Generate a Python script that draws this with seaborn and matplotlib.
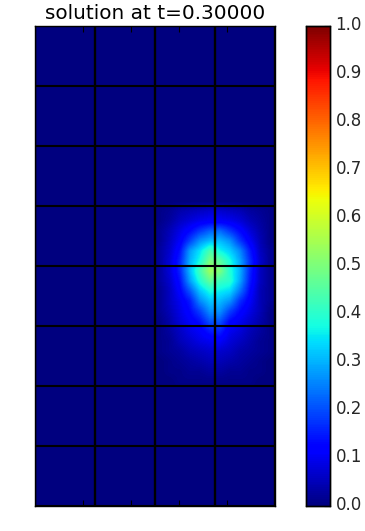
import numpy as np
import pandas as pd
import matplotlib
matplotlib.use('Agg')
import matplotlib.pyplot as plt
from matplotlib.transforms import ScaledTranslation
import seaborn as sns

title = "solution at t=0.30000"
cbar_ticks = [0.0, 0.1, 0.2, 0.3, 0.4, 0.5, 0.6, 0.7, 0.8, 0.9, 1.0]
x_ticks = [4.8, 9.6, 14.4, 19.2]

# solution, 24 x 48 sample cells, zero outside the blob
n_cols = 24
n_rows = 48
blob_first_row = 18
blob_first_col = 12
blob = [
    [.01, .02, .04, .05, .06, .07, .07, .06, .05, .03, .02, .01],
    [.01, .03, .06, .08, .10, .11, .11, .10, .08, .05, .03, .01],
    [.02, .05, .09, .13, .18, .22, .23, .18, .13, .08, .04, .01],
    [.02, .06, .11, .19, .27, .31, .31, .27, .18, .11, .05, .01],
    [.03, .07, .14, .28, .35, .44, .37, .33, .26, .15, .06, .02],
    [.03, .08, .16, .30, .38, .50, .46, .38, .29, .17, .07, .02],
    [.03, .08, .16, .31, .43, .54, .50, .39, .30, .16, .06, .02],
    [.03, .07, .14, .28, .39, .47, .42, .40, .29, .15, .06, .02],
    [.02, .06, .12, .21, .32, .38, .36, .34, .24, .13, .05, .02],
    [.02, .06, .10, .15, .26, .32, .31, .27, .17, .11, .05, .02],
    [.02, .05, .09, .13, .19, .27, .27, .19, .13, .09, .05, .01],
    [.01, .04, .08, .11, .14, .21, .21, .13, .10, .07, .04, .01],
    [.01, .03, .06, .09, .11, .15, .16, .10, .08, .05, .03, .01],
    [.01, .02, .05, .07, .09, .10, .11, .08, .06, .04, .02, .01],
    [.01, .02, .03, .05, .06, .07, .07, .06, .04, .03, .02, .01],
    [.00, .01, .02, .03, .04, .05, .05, .04, .03, .02, .01, .00],
    [.00, .01, .01, .02, .02, .03, .03, .02, .02, .01, .01, .00],
    [.00, .00, .01, .01, .01, .01, .01, .01, .01, .01, .00, .00],
]

field = np.zeros((n_rows, n_cols))
blob = np.array(blob)
field[blob_first_row:blob_first_row + blob.shape[0], blob_first_col:blob_first_col + blob.shape[1]] = blob
df = pd.DataFrame(field)

sns.set_style("white")
plt.rcParams['font.family'] = ['DejaVu Sans']

W, H = 365, 531
fig = plt.figure(figsize=(W / 100, H / 100), dpi=100)
ax = fig.add_axes([35 / W, 1 - 506 / H, 240 / W, 480 / H])
cax = fig.add_axes([306 / W, 1 - 506 / H, 24 / W, 480 / H])

sns.heatmap(df, ax=ax, cbar_ax=cax, cmap="jet", vmin=0, vmax=1,
            xticklabels=False, yticklabels=False, square=False,
            cbar_kws={"ticks": cbar_ticks})

# smooth the same table over the mesh, the original is drawn with gouraud shading
ax.imshow(field, cmap="jet", vmin=0, vmax=1, extent=(0, n_cols, n_rows, 0),
          interpolation="bilinear", aspect="auto", zorder=2)

# element boundaries
for x in range(0, n_cols + 1, 6):
    ax.axvline(x, color="black", lw=1.7, zorder=3)
for y in range(0, n_rows + 1, 6):
    ax.axhline(y, color="black", lw=1.5, zorder=3)

ax.set_xlim(0, n_cols)
ax.set_ylim(n_rows, 0)

# small inward ticks along top and bottom, no labels
ax.set_xticks(x_ticks)
ax.set_xticklabels([])
ax.tick_params(axis="x", direction="in", top=True, bottom=True, length=4, width=0.8, color="black")
ax.set_axisbelow(False)

for s in ax.spines.values():
    s.set_visible(True)
    s.set_color("black")
    s.set_linewidth(1.0)
    s.set_zorder(4)

ax.set_title(title, fontsize=14.4, pad=5, color="black")

cax.tick_params(labelsize=12, length=4, width=0.8, direction="in", right=True, color="black", pad=4)
# labels sit a little above their ticks in the original
shift_up = ScaledTranslation(0, 3 / 100, fig.dpi_scale_trans)
for label in cax.get_yticklabels():
    label.set_transform(label.get_transform() + shift_up)
for s in cax.spines.values():
    s.set_visible(True)
    s.set_color("black")
    s.set_linewidth(1.0)

fig.savefig("out.png", dpi=100)
